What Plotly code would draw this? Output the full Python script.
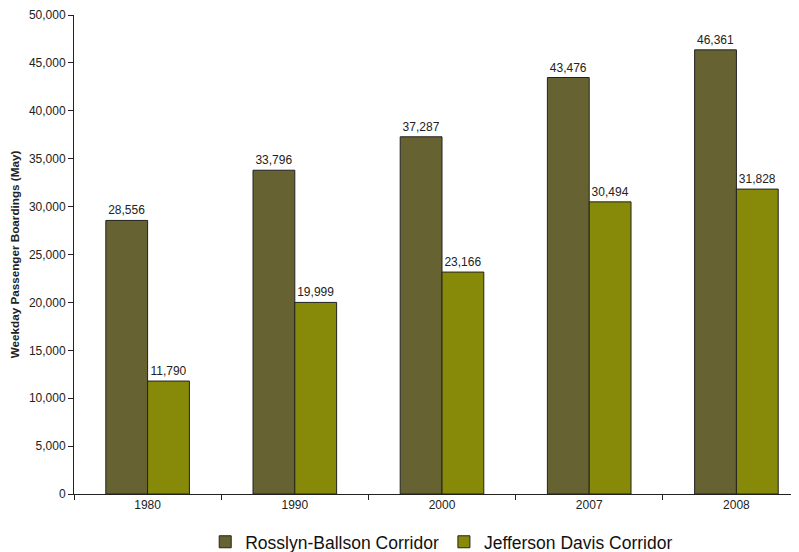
import plotly.graph_objects as go

years = ["1980", "1990", "2000", "2007", "2008"]
rosslyn = [28556, 33796, 37287, 43476, 46361]
jefferson = [11790, 19999, 23166, 30494, 31828]

fig = go.Figure()
fig.add_trace(go.Bar(
    x=years, y=rosslyn, name="Rosslyn-Ballson Corridor",
    marker=dict(color="#676232", line=dict(color="#222222", width=1)),
    texttemplate="%{y:,}", textposition="outside",
    textfont=dict(size=12, color="#222222"), cliponaxis=False,
))
fig.add_trace(go.Bar(
    x=years, y=jefferson, name="Jefferson Davis Corridor",
    marker=dict(color="#878A08", line=dict(color="#222222", width=1)),
    texttemplate="%{y:,}", textposition="outside",
    textfont=dict(size=12, color="#222222"), cliponaxis=False,
))

fig.update_layout(
    width=791, height=544,
    margin=dict(l=66, r=4, t=7, b=58, autoexpand=False),
    paper_bgcolor="white", plot_bgcolor="white",
    font=dict(family="Liberation Sans, Arial, sans-serif", color="#222222"),
    barmode="group", bargap=0.432, bargroupgap=0,
    showlegend=True,
    legend=dict(orientation="h", x=0.51, xanchor="center", y=-0.1, yanchor="middle",
                font=dict(size=17.5, color="#111111"), traceorder="normal",
                itemwidth=30, tracegroupgap=0),
    xaxis=dict(
        type="category", range=[-0.5, 4.398], tickson="boundaries", ticks="outside", ticklen=5,
        tickcolor="#222222", showline=True, linecolor="#222222", linewidth=1,
        tickfont=dict(size=12), showgrid=False, zeroline=False, automargin=False,
    ),
    yaxis=dict(
        range=[0, 50000], dtick=5000, tickformat=",d", ticks="outside", ticklen=5,
        tickcolor="#222222", showline=True, linecolor="#222222", linewidth=1,
        tickfont=dict(size=12), showgrid=False, zeroline=False, automargin=False,
        title=dict(text="<b>Weekday Passenger Boardings (May)</b>", font=dict(size=11.7), standoff=8),
    ),
)

fig.write_html("out.html")
